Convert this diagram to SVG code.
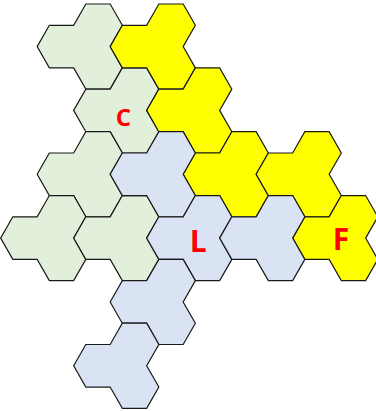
<svg xmlns="http://www.w3.org/2000/svg" xmlns:xlink="http://www.w3.org/1999/xlink" width="376" height="411" viewBox="0 0 376 411">
<style>
.t{stroke:#1a1a1a;stroke-width:1.2;stroke-linejoin:miter}
.g{fill:#E2EFDA}
.y{fill:#FFFF00}
.b{fill:#DAE3F3}
.lbl{font-family:"Open Sans","Liberation Sans",sans-serif;font-weight:bold;fill:#FF0000;text-anchor:middle}
</style>
<defs>
<path id="tri" d="M -24.33 0 L -12.17 -21.28 L 12.17 -21.28 L 24.33 -42.56 L 48.67 -42.56 L 60.83 -21.28 L 48.67 0 L 60.83 21.28 L 48.67 42.56 L 24.33 42.56 L 12.17 21.28 L -12.17 21.28 Z"/>
</defs>
<rect width="376" height="411" fill="#FFFFFF"/>
<g id="C">
<use class="t g" xlink:href="#tri" href="#tri" transform="translate(61.5,46.58)"/>
<use class="t g" xlink:href="#tri" href="#tri" transform="translate(98,110.42)"/>
<use class="t g" xlink:href="#tri" href="#tri" transform="translate(61.5,174.26)"/>
<use class="t g" xlink:href="#tri" href="#tri" transform="translate(25,238.1)"/>
<use class="t g" xlink:href="#tri" href="#tri" transform="translate(98,238.1)"/>
</g>
<g id="F">
<use class="t y" xlink:href="#tri" href="#tri" transform="translate(134.5,46.58)"/>
<use class="t y" xlink:href="#tri" href="#tri" transform="translate(171,110.42)"/>
<use class="t y" xlink:href="#tri" href="#tri" transform="translate(207.5,174.26)"/>
<use class="t y" xlink:href="#tri" href="#tri" transform="translate(280.5,174.26)"/>
<use class="t y" xlink:href="#tri" href="#tri" transform="translate(317,238.1)"/>
</g>
<g id="L">
<use class="t b" xlink:href="#tri" href="#tri" transform="translate(134.5,174.26)"/>
<use class="t b" xlink:href="#tri" href="#tri" transform="translate(171,238.1)"/>
<use class="t b" xlink:href="#tri" href="#tri" transform="translate(244,238.1)"/>
<use class="t b" xlink:href="#tri" href="#tri" transform="translate(134.5,301.94)"/>
<use class="t b" xlink:href="#tri" href="#tri" transform="translate(98,365.78)"/>
</g>
<g id="labels">
<text class="lbl" x="123.3" y="125.5" font-size="24">C</text>
<text class="lbl" x="198.3" y="252" font-size="30">L</text>
<text class="lbl" x="341" y="250" font-size="30">F</text>
</g>
</svg>
